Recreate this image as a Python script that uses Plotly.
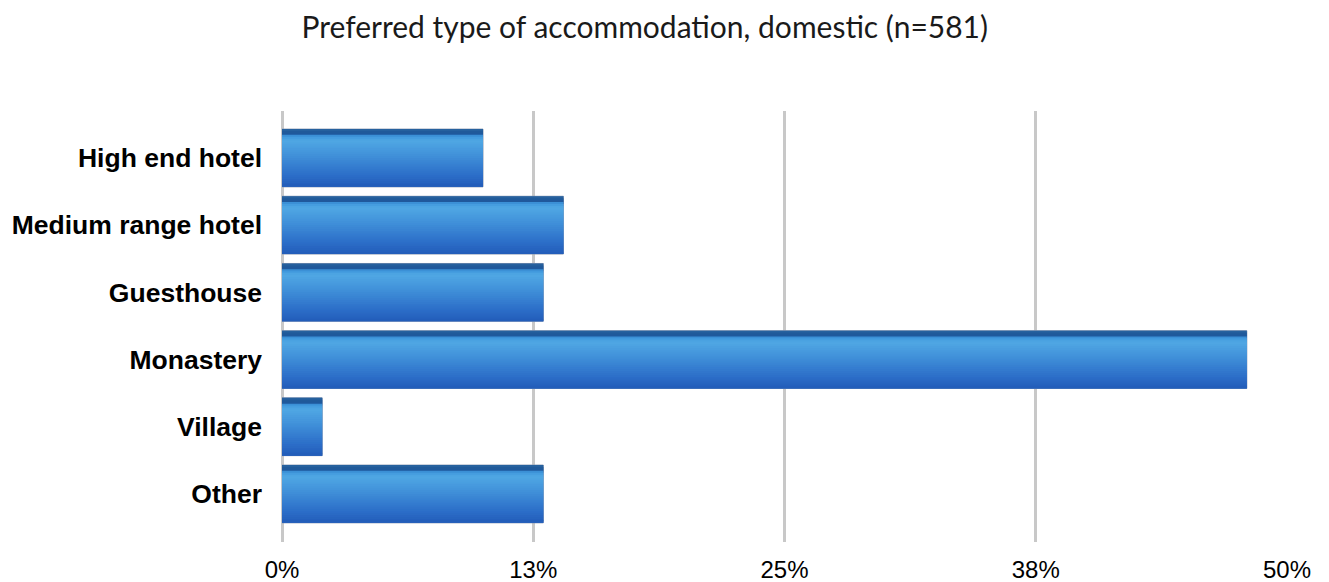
import plotly.graph_objects as go

# Data
categories = ["High end hotel", "Medium range hotel", "Guesthouse", "Monastery", "Village", "Other"]
shares = [10.0, 14.0, 13.0, 48.0, 2.0, 13.0]
tick_vals = [0, 12.5, 25, 37.5, 50]
tick_text = ["0%", "13%", "25%", "38%", "50%"]

BAR_W = 0.86

# colour stops down the bar (fraction from top, rgb) to fake the glossy gradient
stops = [
    (0.00, (40, 100, 160)),
    (0.08, (28, 84, 150)),
    (0.12, (62, 150, 220)),
    (0.20, (80, 168, 228)),
    (0.50, (62, 140, 215)),
    (0.80, (44, 110, 200)),
    (1.00, (34, 92, 185)),
]


def colour_at(f):
    for (f0, c0), (f1, c1) in zip(stops, stops[1:]):
        if f0 <= f <= f1:
            t = (f - f0) / (f1 - f0) if f1 > f0 else 0
            return "rgb(%d,%d,%d)" % tuple(round(a + (b - a) * t) for a, b in zip(c0, c1))
    return "rgb(%d,%d,%d)" % stops[-1][1]


fig = go.Figure()

# base bar with thin outline
fig.add_trace(go.Bar(
    y=categories, x=shares, orientation="h", width=BAR_W,
    marker=dict(color="rgb(34,92,185)", line=dict(color="rgb(140,155,180)", width=1)),
    hoverinfo="skip", showlegend=False,
))

n_bands = 30
band = BAR_W / n_bands
for i in range(n_bands):
    f = (i + 0.5) / n_bands
    w = band * 2 if i < n_bands - 1 else band
    fig.add_trace(go.Bar(
        y=categories, x=shares, orientation="h",
        width=w, offset=-BAR_W / 2 + i * band,
        marker=dict(color=colour_at(f), line=dict(width=0)),
        hovertemplate="%{y}: %{x}%<extra></extra>" if i == n_bands // 2 else None,
        hoverinfo=None if i == n_bands // 2 else "skip",
        showlegend=False,
    ))

# page body has an 8px margin, so the figure is shrunk by that much
fig.update_layout(
    width=1321, height=574,
    barmode="overlay",
    plot_bgcolor="white", paper_bgcolor="white",
    margin=dict(l=274, r=42, t=103, b=40),
    title=dict(text="Preferred type of accommodation, domestic (n=581)",
               x=0.482, xanchor="center", y=0.966, yanchor="middle",
               font=dict(family="Lato", size=30, color="#1a1a1a")),
    font=dict(family="Liberation Sans, Arial", color="black"),
)

fig.update_xaxes(
    range=[0, 50], tickvals=tick_vals, ticktext=tick_text, automargin=False,
    showgrid=True, gridcolor="#c8c8c8", gridwidth=2.5,
    zeroline=True, zerolinecolor="#c8c8c8", zerolinewidth=2.5,
    showline=False, ticks="", tickfont=dict(size=24), ticklabelstandoff=11,
)
fig.update_yaxes(
    categoryorder="array", categoryarray=categories, automargin=False,
    range=[5.715, -0.699], showgrid=False, zeroline=False, showline=False,
    ticks="", tickfont=dict(size=26.5, family="Liberation Sans, Arial", weight="bold"),
    ticklabelstandoff=19,
)

fig.write_html("out.html")
